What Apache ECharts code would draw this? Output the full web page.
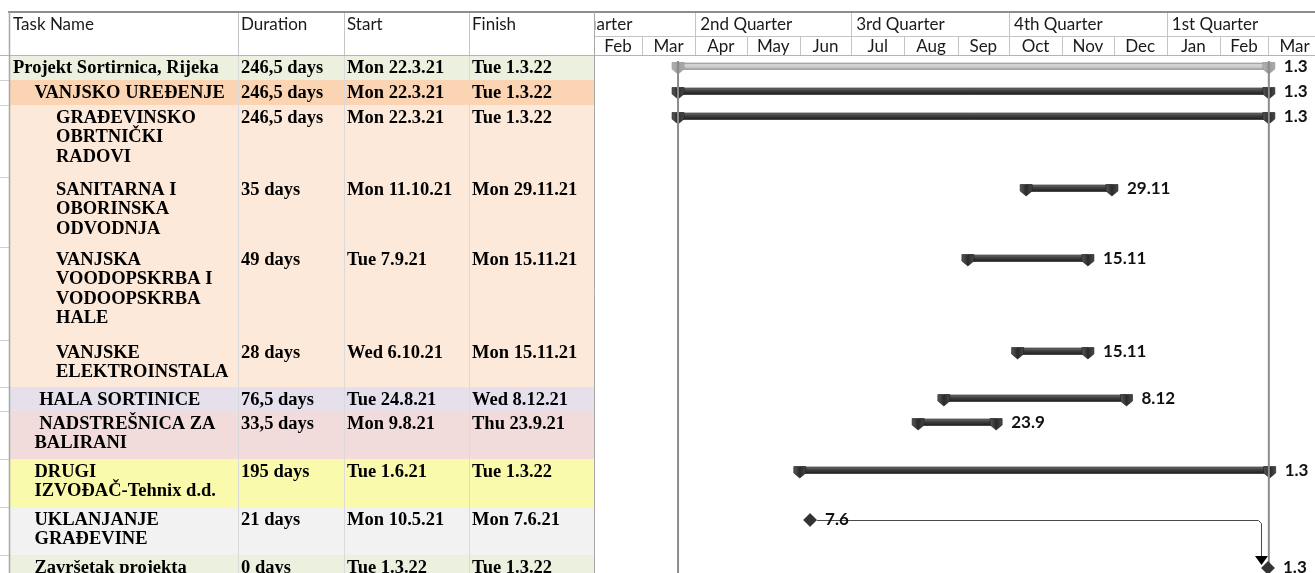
<!DOCTYPE html>
<html>
<head>
<meta charset="utf-8">
<title>Projekt Sortirnica, Rijeka</title>
<script src="https://cdn.jsdelivr.net/npm/echarts@6/dist/echarts.min.js"></script>
<style>
  html, body { margin: 0; padding: 0; background: #fff; }
  #chart { width: 1315px; height: 573px; }
</style>
</head>
<body>
<div id="chart"></div>
<script>
'use strict'

// table data
var taskNames = [
  'Projekt Sortirnica, Rijeka',
  'VANJSKO UREĐENJE',
  'GRAĐEVINSKO\nOBRTNIČKI\nRADOVI',
  'SANITARNA I\nOBORINSKA\nODVODNJA',
  'VANJSKA\nVOODOPSKRBA I\nVODOOPSKRBA\nHALE',
  'VANJSKE\nELEKTROINSTALACIJE',
  ' HALA SORTINICE',
  ' NADSTREŠNICA ZA\nBALIRANI\nMATERIJAL',
  'DRUGI\nIZVOĐAČ-Tehnix d.d.',
  'UKLANJANJE\nGRAĐEVINE',
  'Završetak projekta'
]
var durations = ['246,5 days', '246,5 days', '246,5 days', '35 days', '49 days', '28 days', '76,5 days', '33,5 days', '195 days', '21 days', '0 days']
var starts = ['Mon 22.3.21', 'Mon 22.3.21', 'Mon 22.3.21', 'Mon 11.10.21', 'Tue 7.9.21', 'Wed 6.10.21', 'Tue 24.8.21', 'Mon 9.8.21', 'Tue 1.6.21', 'Mon 10.5.21', 'Tue 1.3.22']
var finishes = ['Tue 1.3.22', 'Tue 1.3.22', 'Tue 1.3.22', 'Mon 29.11.21', 'Mon 15.11.21', 'Mon 15.11.21', 'Wed 8.12.21', 'Thu 23.9.21', 'Tue 1.3.22', 'Mon 7.6.21', 'Tue 1.3.22']
var outline = [0, 1, 2, 2, 2, 2, 1, 1, 1, 1, 1]
var barLabels = ['1.3', '1.3', '1.3', '29.11', '15.11', '15.11', '8.12', '23.9', '1.3', '7.6', '1.3']
var milestoneRows = [9, 10]
var links = [[9, 10]]

// timescale / header text
var headerLabels = ['Task Name', 'Duration', 'Start', 'Finish']
var quarterLabels = ['1st Quarter', '2nd Quarter', '3rd Quarter', '4th Quarter', '1st Quarter']
var monthLabels = ['Feb', 'Mar', 'Apr', 'May', 'Jun', 'Jul', 'Aug', 'Sep', 'Oct', 'Nov', 'Dec', 'Jan', 'Feb', 'Mar']

// layout
var rowHeights = [25, 25, 72, 70, 93, 47, 24, 48, 48, 48, 48]
var rowFills = ['#ebf1de', '#fbd4b4', '#fde9d9', '#fde9d9', '#fde9d9', '#fde9d9', '#e5e0ec', '#f2dcdb', '#fafaac', '#f2f2f2', '#ebf1de']
var colLefts = [10, 238, 344, 469]
var tableRight = 594
var rowTops = []
var acc = 0
rowHeights.forEach(function (h) { rowTops.push(acc); acc += h })

var DAY = 864e5
var SERIF = 'bold 18.5px "Liberation Serif", "Times New Roman", serif'
var SANS = '17px Lato, "DejaVu Sans", sans-serif'
var SANS_BOLD = 'bold 17px Lato, "DejaVu Sans", sans-serif'

function parseDay (s) {
  var p = s.split(' ')[1].split('.')
  return new Date(2000 + Number(p[2]), Number(p[1]) - 1, Number(p[0])).getTime()
}
// finish of a task: end of the day, or midday for ",5" durations
function finishTime (i) {
  return parseDay(finishes[i]) + (durations[i].indexOf(',5') >= 0 ? DAY / 2 : DAY)
}
function crisp (v) { return Math.round(v) + 0.5 }

var viewStart = new Date(2021, 1, 1).getTime()
var viewEnd = new Date(2022, 2, 28, 10).getTime()
var firstQuarter = new Date(2021, 0, 1)
var firstMonth = new Date(2021, 1, 1)

// ---- table body
function renderRow (params, api) {
  var i = api.value(0)
  var top = api.coord([0, rowTops[i]])[1]
  var bottom = api.coord([0, rowTops[i] + rowHeights[i]])[1]
  var left = api.coord([colLefts[0], 0])[0]
  var right = api.coord([tableRight, 0])[0]
  var children = [{
    type: 'rect',
    shape: { x: left, y: top, width: right - left, height: bottom - top },
    style: { fill: rowFills[i] }
  }]
  colLefts.slice(1).forEach(function (c) {
    var x = crisp(api.coord([c, 0])[0])
    children.push({ type: 'line', shape: { x1: x, y1: top, x2: x, y2: bottom }, style: { stroke: '#dadada', lineWidth: 1 } })
  })
  children.push({
    type: 'line',
    shape: { x1: 0, y1: crisp(bottom), x2: right, y2: crisp(bottom) },
    style: { stroke: '#cfcfcf', lineWidth: 1 }
  })
  var cells = [taskNames[i], durations[i], starts[i], finishes[i]]
  cells.forEach(function (t, c) {
    var x0 = api.coord([colLefts[c], 0])[0] + 3 + (c === 0 ? outline[i] * 21.5 : 0)
    var x1 = api.coord([c < 3 ? colLefts[c + 1] : tableRight, 0])[0]
    children.push({
      type: 'text',
      x: x0,
      y: top + 3,
      style: {
        text: t,
        font: SERIF,
        fill: '#000',
        verticalAlign: 'top',
        lineHeight: 19.5,
        width: x1 - x0 - 1,
        overflow: 'truncate',
        ellipsis: '',
        height: bottom - top - 3,
        lineOverflow: 'truncate'
      }
    })
  })
  return { type: 'group', children: children }
}

// ---- table header
function renderHeader (params, api) {
  var c = api.value(0)
  var p = api.coord([colLefts[c], 0])
  var b = api.coord([colLefts[c], 43])
  var children = [{
    type: 'text',
    x: p[0] + 3,
    y: p[1] + 12.5,
    style: { text: headerLabels[c], font: SANS, fill: '#1a1a1a', verticalAlign: 'middle' }
  }]
  if (c > 0) {
    var x = crisp(p[0])
    children.push({ type: 'line', shape: { x1: x, y1: p[1], x2: x, y2: b[1] }, style: { stroke: '#c4c4c4', lineWidth: 1 } })
  }
  return { type: 'group', children: children }
}

// ---- timescale cells
function renderScaleCell (row) {
  return function (params, api) {
    var labels = row === 0 ? quarterLabels : monthLabels
    var y0 = row === 0 ? 0 : 24
    var y1 = row === 0 ? 24 : 43
    var a = api.coord([api.value(0), y0])
    var b = api.coord([api.value(1), y1])
    var i = api.value(2)
    var x = crisp(a[0])
    return {
      type: 'group',
      children: [
        { type: 'line', shape: { x1: x, y1: a[1], x2: x, y2: b[1] }, style: { stroke: '#c4c4c4', lineWidth: 1 } },
        {
          type: 'text',
          x: row === 0 ? a[0] + 5 : (a[0] + b[0]) / 2,
          y: (a[1] + b[1]) / 2 + 1,
          style: {
            text: labels[i],
            font: SANS,
            fill: '#1a1a1a',
            align: row === 0 ? 'left' : 'center',
            verticalAlign: 'middle'
          }
        }
      ]
    }
  }
}

// ---- gantt bars
function capPoints (x, top) {
  return [[x - 6, top - 0.5], [x + 6, top - 0.5], [x + 6, top + 6], [x, top + 11], [x - 6, top + 6]]
}
function barFill (light) {
  return new echarts.graphic.LinearGradient(0, 0, 0, 1, light
    ? [{ offset: 0, color: '#9c9c9c' }, { offset: 0.3, color: '#dadada' }, { offset: 0.7, color: '#c2c2c2' }, { offset: 1, color: '#8e8e8e' }]
    : [{ offset: 0, color: '#8a8a8a' }, { offset: 0.3, color: '#4a4a4a' }, { offset: 0.7, color: '#2e2e2e' }, { offset: 1, color: '#1c1c1c' }])
}
function capFill (light) {
  return new echarts.graphic.LinearGradient(0, 0, 1, 0, light
    ? [{ offset: 0, color: '#b8b8b8' }, { offset: 0.5, color: '#9a9a9a' }, { offset: 1, color: '#b0b0b0' }]
    : [{ offset: 0, color: '#5a5a5a' }, { offset: 0.5, color: '#2a2a2a' }, { offset: 1, color: '#4a4a4a' }])
}
function renderBar (params, api) {
  var row = api.value(2)
  var p0 = api.coord([api.value(0), rowTops[row]])
  var p1 = api.coord([api.value(1), rowTops[row]])
  var top = p0[1] + 8
  var light = outline[row] === 0
  var edge = light ? '#8a8a8a' : '#1a1a1a'
  return {
    type: 'group',
    children: [
      {
        type: 'rect',
        shape: { x: p0[0], y: top, width: p1[0] - p0[0], height: 6.5 },
        style: { fill: barFill(light), stroke: edge, lineWidth: 0.6 }
      },
      { type: 'polygon', shape: { points: capPoints(p0[0], top) }, style: { fill: capFill(light), stroke: edge, lineWidth: 0.6 } },
      { type: 'polygon', shape: { points: capPoints(p1[0], top) }, style: { fill: capFill(light), stroke: edge, lineWidth: 0.6 } },
      {
        type: 'text',
        x: p1[0] + 15,
        y: top + 3.5,
        style: { text: barLabels[row], font: SANS_BOLD, fill: '#111', verticalAlign: 'middle' }
      }
    ]
  }
}

// ---- milestones
function renderMilestone (params, api) {
  var row = api.value(1)
  var p = api.coord([api.value(0), rowTops[row]])
  var cx = p[0]
  var cy = p[1] + 13
  return {
    type: 'group',
    children: [
      {
        type: 'polygon',
        shape: { points: [[cx, cy - 6.5], [cx + 6.5, cy], [cx, cy + 6.5], [cx - 6.5, cy]] },
        style: { fill: '#333', stroke: '#111', lineWidth: 0.6 }
      },
      {
        type: 'text',
        x: cx + 15,
        y: cy,
        style: { text: barLabels[row], font: SANS_BOLD, fill: '#111', verticalAlign: 'middle' }
      }
    ]
  }
}

// ---- dependency links
function renderLink (params, api) {
  var a = api.coord([api.value(0), rowTops[api.value(2)]])
  var b = api.coord([api.value(1), rowTops[api.value(3)]])
  var ya = crisp(a[1] + 13)
  var yb = b[1] + 13
  var xv = crisp(b[0] - 7)
  return {
    type: 'group',
    children: [
      {
        type: 'polyline',
        shape: { points: [[a[0] + 7, ya], [xv - 3, ya], [xv, ya + 3], [xv, yb - 11]] },
        style: { stroke: '#4a4a4a', lineWidth: 1, fill: null }
      },
      {
        type: 'polygon',
        shape: { points: [[xv - 6.5, yb - 12], [xv + 6.5, yb - 12], [xv, yb - 3]] },
        style: { fill: '#000' }
      }
    ]
  }
}

// ---- project start / finish lines
function renderMarker (params, api) {
  var a = api.coord([api.value(0), 6])
  var b = api.coord([api.value(0), 518])
  return {
    type: 'line',
    shape: { x1: a[0], y1: a[1], x2: a[0], y2: b[1] },
    style: { stroke: '#8c8c8c', lineWidth: 2 }
  }
}

var barData = []
taskNames.forEach(function (n, i) {
  if (milestoneRows.indexOf(i) < 0) barData.push([parseDay(starts[i]), finishTime(i), i])
})
var milestoneData = milestoneRows.map(function (i) { return [parseDay(finishes[i]), i] })
var linkData = links.map(function (l) { return [parseDay(finishes[l[0]]), parseDay(finishes[l[1]]), l[0], l[1]] })
var markerData = [[parseDay(starts[0])], [parseDay(finishes[0]) + DAY / 2]]
var quarterData = quarterLabels.map(function (q, i) {
  return [new Date(2021, firstQuarter.getMonth() + 3 * i, 1).getTime(), new Date(2021, firstQuarter.getMonth() + 3 * i + 3, 1).getTime(), i]
})
var monthData = monthLabels.map(function (m, i) {
  return [new Date(2021, firstMonth.getMonth() + i, 1).getTime(), new Date(2021, firstMonth.getMonth() + i + 1, 1).getTime(), i]
})

var hidden = { show: false, splitLine: { show: false } }
function valueAxis (grid, max, inverse) {
  return Object.assign({ type: 'value', gridIndex: grid, min: 0, max: max, inverse: !!inverse }, hidden)
}
function timeAxis (grid) {
  return Object.assign({ type: 'time', gridIndex: grid, min: viewStart, max: viewEnd }, hidden)
}

var chart = echarts.init(document.getElementById('chart'))
chart.setOption({
  animation: false,
  backgroundColor: '#fff',
  grid: [
    { left: 0, top: 55, width: 594, height: 518 },
    { left: 594, top: 55, right: 0, height: 518 },
    { left: 594, top: 12, right: 0, height: 43 },
    { left: 0, top: 12, width: 594, height: 43 }
  ],
  xAxis: [valueAxis(0, 594), timeAxis(1), timeAxis(2), valueAxis(3, 594)],
  yAxis: [valueAxis(0, 518, true), valueAxis(1, 518, true), valueAxis(2, 43, true), valueAxis(3, 43, true)],
  series: [
    {
      type: 'custom', xAxisIndex: 0, yAxisIndex: 0, clip: true,
      data: taskNames.map(function (n, i) { return [i] }),
      renderItem: renderRow
    },
    {
      type: 'custom', xAxisIndex: 3, yAxisIndex: 3,
      data: headerLabels.map(function (h, i) { return [i] }),
      renderItem: renderHeader
    },
    {
      type: 'custom', xAxisIndex: 2, yAxisIndex: 2, clip: true,
      encode: { x: [0, 1] },
      data: quarterData,
      renderItem: renderScaleCell(0)
    },
    {
      type: 'custom', xAxisIndex: 2, yAxisIndex: 2, clip: true,
      encode: { x: [0, 1] },
      data: monthData,
      renderItem: renderScaleCell(1)
    },
    {
      type: 'custom', xAxisIndex: 1, yAxisIndex: 1,
      encode: { x: [0, 1] },
      data: barData,
      renderItem: renderBar
    },
    {
      type: 'custom', xAxisIndex: 1, yAxisIndex: 1,
      encode: { x: [0, 1] },
      data: linkData,
      renderItem: renderLink
    },
    {
      type: 'custom', xAxisIndex: 1, yAxisIndex: 1,
      encode: { x: 0 },
      data: markerData,
      renderItem: renderMarker,
      z: 3
    },
    {
      type: 'custom', xAxisIndex: 1, yAxisIndex: 1,
      encode: { x: 0 },
      data: milestoneData,
      renderItem: renderMilestone,
      z: 4
    }
  ],
  graphic: [
    { type: 'line', silent: true, z: 10, shape: { x1: 8, y1: 12, x2: 1315, y2: 12 }, style: { stroke: '#8e8e8e', lineWidth: 2 } },
    { type: 'line', silent: true, z: 10, shape: { x1: 0, y1: 55.5, x2: 1315, y2: 55.5 }, style: { stroke: '#b4b4b4', lineWidth: 1 } },
    { type: 'line', silent: true, z: 10, shape: { x1: 594, y1: 36.5, x2: 1315, y2: 36.5 }, style: { stroke: '#c4c4c4', lineWidth: 1 } },
    { type: 'line', silent: true, z: 10, shape: { x1: 9.5, y1: 12, x2: 9.5, y2: 573 }, style: { stroke: '#a8a8a8', lineWidth: 1.5 } },
    { type: 'line', silent: true, z: 10, shape: { x1: 594.5, y1: 12, x2: 594.5, y2: 573 }, style: { stroke: '#a8a8a8', lineWidth: 1 } }
  ]
})
</script>
</body>
</html>
